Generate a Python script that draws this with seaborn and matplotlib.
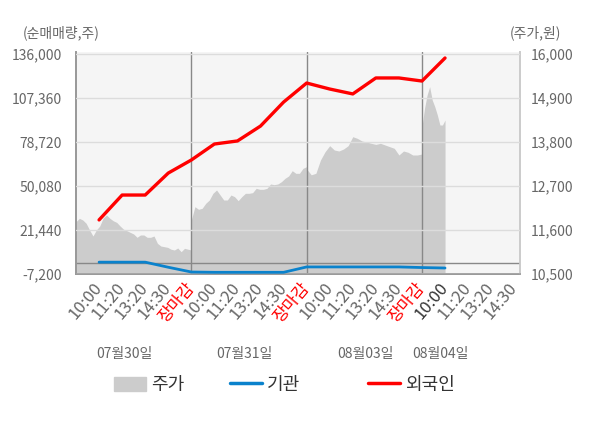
import numpy as np
import pandas as pd
import matplotlib
matplotlib.use('Agg')
import matplotlib.pyplot as plt
import seaborn as sns
from matplotlib.patches import Patch
from matplotlib.lines import Line2D

# x축 라벨 / 날짜
time_labels = ['10:00', '11:20', '13:20', '14:30', '장마감'] * 3 + ['10:00', '11:20', '13:20', '14:30']
date_labels = ['07월30일', '07월31일', '08월03일', '08월04일']

# 순매매량 (주)
foreign = [28000, 44200, 44200, 58500, 67000, 77400, 79400, 89100,
           104700, 117100, 113200, 110000, 120400, 120400, 118400, 133400]
inst = [500, 500, 500, -2800, -5900, -6100, -6100, -6100,
        -6100, -2600, -2600, -2600, -2600, -2600, -3000, -3300]

# 주가 (원), 일자별
price_d1 = [11808, 11892, 11850, 11767, 11600, 11450, 11600, 11700, 11900, 11975,
            11892, 11830, 11790, 11700, 11620, 11583, 11540, 11500, 11417, 11475,
            11475, 11417, 11417, 11450, 11267, 11200, 11183, 11167, 11120, 11100,
            11150, 11058, 11142, 11120, 11100]
price_d2 = [11850, 12183, 12117, 12142, 12267, 12350, 12517, 12600, 12475, 12350,
            12350, 12475, 12433, 12333, 12433, 12517, 12517, 12533, 12642, 12617,
            12617, 12642, 12750, 12733, 12750, 12808, 12892, 12950, 13083, 13017,
            13017, 13142, 13183]
price_d3 = [13125, 12980, 13017, 13350, 13558, 13708, 13600, 13575, 13625, 13708,
            13933, 13890, 13825, 13800, 13767, 13740, 13767, 13725, 13683, 13642,
            13475, 13575, 13542, 13475, 13475, 13500]
price_d4 = [14183, 14642, 14975, 15183, 14850, 14683, 14475, 14225, 14225, 14350]

price_x = np.concatenate([np.linspace(0, 5, len(price_d1)),
                          np.linspace(5, 10, len(price_d2)),
                          np.linspace(10, 15, len(price_d3)),
                          np.linspace(15, 16, len(price_d4))])
price_df = pd.DataFrame({'pos': price_x,
                         'price': price_d1 + price_d2 + price_d3 + price_d4})
flow_df = pd.DataFrame({'pos': np.arange(1, len(foreign) + 1),
                        '외국인': foreign, '기관': inst})

sns.set_theme(style='white')
plt.rcParams['font.family'] = ['Noto Sans CJK KR', 'DejaVu Sans']

fig = plt.figure(figsize=(6, 4.28), dpi=100)
ax_p = fig.add_axes([76 / 600, 1 - 274 / 428, 444 / 600, 222 / 428])
ax_p.set_facecolor('#f5f5f5')
ax_v = ax_p.twinx()

# 주가 영역
ax_p.fill_between(price_df['pos'], 10500, price_df['price'], color='#cccccc', lw=0)
ax_p.set_ylim(10500, 16050)
ax_p.yaxis.tick_right()
ax_p.set_yticks(np.arange(10500, 16001, 1100))
ax_p.set_yticklabels([f'{v:,}' for v in np.arange(10500, 16001, 1100)])
ax_p.tick_params(axis='y', length=0, pad=8, labelsize=10, labelcolor='#666666')

# 순매매량 선
ax_v.yaxis.tick_left()
ax_v.set_ylim(-7200, 137300)
vt = np.arange(-7200, 136001, 28640)
ax_v.set_yticks(vt)
ax_v.set_yticklabels([f'{v:,}' for v in vt])
ax_v.tick_params(axis='y', length=0, pad=10, labelsize=10, labelcolor='#666666')
ax_v.grid(axis='y', color='#dcdcdc', lw=1)
ax_v.set_axisbelow(False)
for d in [5, 10, 15]:
    ax_v.axvline(d, color='#888888', lw=1, zorder=2)
ax_v.axhline(0, color='#888888', lw=1, zorder=2)
sns.lineplot(data=flow_df, x='pos', y='기관', ax=ax_v, color='#0a82cc', lw=2, zorder=4)
sns.lineplot(data=flow_df, x='pos', y='외국인', ax=ax_v, color='#ff0000', lw=2.4, zorder=5)
ax_v.set_xlabel('')
ax_v.set_ylabel('')

# x축
ax_p.set_xlim(0, 19.25)
ax_p.set_xticks(np.arange(1, 20))
ax_p.set_xticklabels(time_labels, rotation=50, ha='right', va='center',
                     rotation_mode='anchor', fontsize=12)
ax_p.tick_params(axis='x', length=0, pad=8)
for i, t in enumerate(ax_p.get_xticklabels()):
    if time_labels[i] == '장마감':
        t.set_color('#ff0000')
    elif i == 15:
        t.set_color('#333333')
    else:
        t.set_color('#666666')
ax_p.set_xticks([0, 5, 10, 15], minor=True)
ax_p.tick_params(axis='x', which='minor', length=5, color='#999999', width=1)

for ax in (ax_p, ax_v):
    ax.spines['top'].set_visible(False)
    ax.spines['left'].set_color('#999999')
    ax.spines['bottom'].set_color('#999999')
    ax.spines['right'].set_color('#cccccc')

fig.text(23 / 600, 1 - 33 / 428, '(순매매량,주)', fontsize=10, color='#666666', va='center')
fig.text(510 / 600, 1 - 33 / 428, '(주가,원)', fontsize=10, color='#666666', va='center')

for x, lab in zip([124, 244, 365, 440], date_labels):
    fig.text(x / 600, 1 - 354 / 428, lab, fontsize=10, color='#666666', ha='center', va='center')

handles = [Patch(color='#cccccc', label='주가'),
           Line2D([], [], color='#0a82cc', lw=2.5, label='기관'),
           Line2D([], [], color='#ff0000', lw=2.5, label='외국인')]
for h, x in zip(handles, [114, 230, 368]):
    fig.legend(handles=[h], loc='center left', bbox_to_anchor=(x / 600, 1 - 385 / 428),
               frameon=False, fontsize=13, handlelength=1.75, handleheight=0.8,
               handletextpad=0.3, borderpad=0, borderaxespad=0, labelcolor='#333333')

fig.savefig('out.png', dpi=100)
